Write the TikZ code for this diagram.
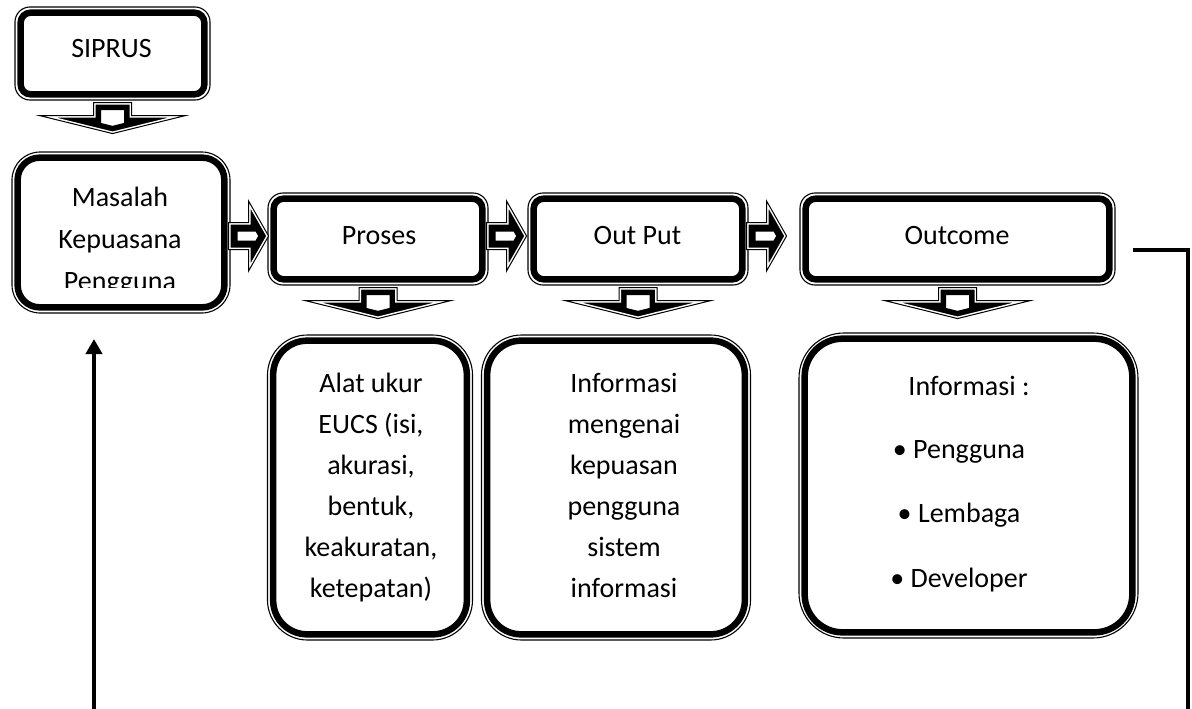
\documentclass[tikz,border=0pt]{standalone}
\usepackage{fontspec}
\setmainfont{Carlito}
\usetikzlibrary{arrows.meta}
\tikzset{
  box/.style={draw, line width=1.1pt, inner sep=0pt},
  inframe/.style={line width=6.5pt},
  txt/.style={font=\fontsize{28}{41}\selectfont, align=center, anchor=base, inner sep=0pt},
  conn/.style={line width=4pt},
}
\newcommand{\inframebox}[2]{\draw[inframe, rounded corners=#2] ([xshift=6.2pt,yshift=-6.2pt]#1.north west) rectangle ([xshift=-6.2pt,yshift=6.2pt]#1.south east);}
\newcommand{\blockarrow}[2]{%
  \fill[white] #2;
  \begin{scope}\clip #2; \draw[line width=#1] #2; \draw[white, line width=4pt] #2;\end{scope}
  \draw[line width=1pt] #2;}
\newcommand{\rblock}[1]{\begin{scope}[shift={(#1.east |- proses.west)}, xshift=-2pt, yshift=3pt]
  \blockarrow{18pt}{(0,-13.5) -- (20,-13.5) -- (20,-35) -- (40,0) -- (20,35) -- (20,13.5) -- (0,13.5) -- cycle}\end{scope}}
\newcommand{\dblock}[1]{\begin{scope}[shift={(#1.south)}, yshift=-2pt]
  \blockarrow{15pt}{(-19,0) -- (19,0) -- (19,13) -- (73,13) -- (0,31) -- (-73,13) -- (-19,13) -- cycle}\end{scope}}
\begin{document}
\begin{tikzpicture}[x=1pt, y=-1pt]
\useasboundingbox (0,0) rectangle (1192,709);

% boxes
\node[box, rounded corners=15pt, minimum width=195pt, minimum height=93pt] (siprus) at (112.5,53.5) {};
\node[box, rounded corners=28pt, minimum width=218pt, minimum height=161pt] (masalah) at (121,232.5) {};
\node[box, rounded corners=15pt, minimum width=220pt, minimum height=92pt] (proses) at (378,239) {};
\node[box, rounded corners=15pt, minimum width=220pt, minimum height=92pt] (output) at (638,239) {};
\node[box, rounded corners=15pt, minimum width=315pt, minimum height=92pt] (outcome) at (957.5,239) {};
\node[box, rounded corners=40pt, minimum width=205pt, minimum height=305pt] (alat) at (370,487.5) {};
\node[box, rounded corners=40pt, minimum width=269pt, minimum height=305pt] (info) at (616,487.5) {};
\node[box, rounded corners=45pt, minimum width=339pt, minimum height=305pt] (hasil) at (968.5,485.5) {};

\inframebox{siprus}{10pt}
\inframebox{masalah}{22pt}
\inframebox{proses}{10pt}
\inframebox{output}{10pt}
\inframebox{outcome}{10pt}
\inframebox{alat}{34pt}
\inframebox{info}{34pt}
\inframebox{hasil}{38pt}

% texts
\node[txt] (tsiprus) at (111.5,58) {SIPRUS};
\begin{scope}
  \clip (12,152) rectangle (230,287);
  \node[txt, font=\fontsize{28}{42}\selectfont] (tmasalah) at (120,290) {Masalah\\Kepuasana\\Pengguna};
\end{scope}
\node[txt] (tproses) at (379,244) {Proses};
\node[txt] (toutput) at (637.5,244) {Out Put};
\node[txt] (toutcome) at (957,244) {Outcome};
\node[txt] (talat) at (371,597) {Alat ukur\\EUCS (isi,\\akurasi,\\bentuk,\\keakuratan,\\ketepatan)};
\node[txt] (tinfo) at (624,597) {Informasi\\mengenai\\kepuasan\\pengguna\\sistem\\informasi};
\node[txt] (thasil) at (969,395) {Informasi :};
\node[txt, font=\fontsize{28}{64.5}\selectfont] (tlist) at (959,587) {• Pengguna\\• Lembaga\\• Developer};

% block arrows
\rblock{masalah}
\rblock{proses}
\rblock{output}
\dblock{siprus}
\dblock{proses}
\dblock{output}
\dblock{outcome}

% feedback connectors
\coordinate (fbstart) at (94,712);
\coordinate (fbend) at (94,339);
\draw[conn, -{Triangle[width=16pt,length=15pt]}] (fbstart) -- (fbend);
\coordinate (ocstart) at (1133,250);
\coordinate (ocend) at (1188,712);
\draw[conn] (ocstart) -| (ocend);
\end{tikzpicture}
\end{document}
